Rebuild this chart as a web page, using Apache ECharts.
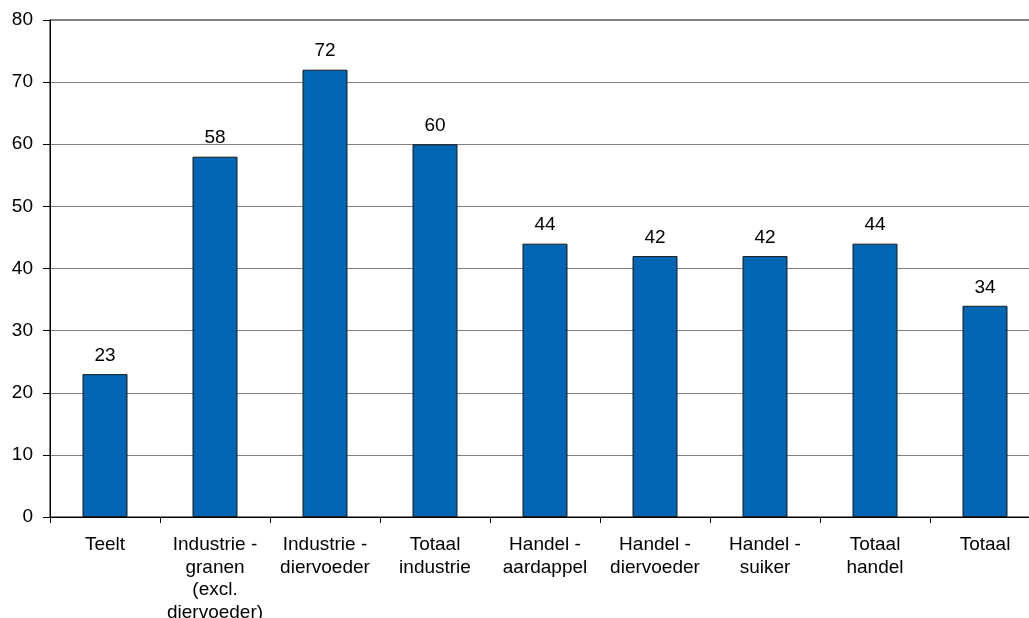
<!DOCTYPE html>
<html>
<head>
<meta charset="utf-8">
<script src="https://cdn.jsdelivr.net/npm/echarts@6/dist/echarts.min.js"></script>
<style>
  html, body { margin: 0; padding: 0; background: #fff; }
  #chart { width: 1029px; height: 618px; }
</style>
</head>
<body>
<div id="chart"></div>
<script>
// Sector categories (x axis) and their values
const categories = [
  'Teelt',
  'Industrie -\ngranen\n(excl.\ndiervoeder)',
  'Industrie -\ndiervoeder',
  'Totaal\nindustrie',
  'Handel -\naardappel',
  'Handel -\ndiervoeder',
  'Handel -\nsuiker',
  'Totaal\nhandel',
  'Totaal'
];
const values = [23, 58, 72, 60, 44, 42, 42, 44, 34];

// Value axis range
const yMin = 0;
const yMax = 80;
const yStep = 10;

const chart = echarts.init(document.getElementById('chart'));
chart.setOption({
  animation: false,
  backgroundColor: '#ffffff',
  textStyle: { fontFamily: 'Liberation Sans, Arial, sans-serif' },
  grid: {
    left: 50, top: 20, width: 990, height: 497,
    outerBoundsMode: 'none',
    containLabel: false,
    show: true, borderColor: '#000', borderWidth: 1, backgroundColor: 'transparent'
  },
  xAxis: {
    type: 'category',
    data: categories,
    axisLine: { lineStyle: { color: '#000', width: 1 } },
    axisTick: { show: true, length: 6, lineStyle: { color: '#000' } },
    axisLabel: {
      color: '#000', fontSize: 19, lineHeight: 22.5, margin: 17,
      interval: 0, align: 'center', hideOverlap: false
    }
  },
  yAxis: {
    type: 'value',
    min: yMin, max: yMax, interval: yStep,
    axisLine: { show: true, lineStyle: { color: '#000', width: 1 } },
    axisTick: { show: true, length: 7, lineStyle: { color: '#000' } },
    axisLabel: { color: '#000', fontSize: 19, margin: 17 },
    splitLine: { show: true, lineStyle: { color: '#808080', width: 1 } }
  },
  series: [{
    type: 'bar',
    data: values,
    barWidth: 45,
    itemStyle: { color: '#0066b3', borderColor: '#1a1a1a', borderWidth: 1 },
    label: {
      show: true, position: 'top', distance: 9,
      color: '#000', fontSize: 19
    }
  }]
});
</script>
</body>
</html>
